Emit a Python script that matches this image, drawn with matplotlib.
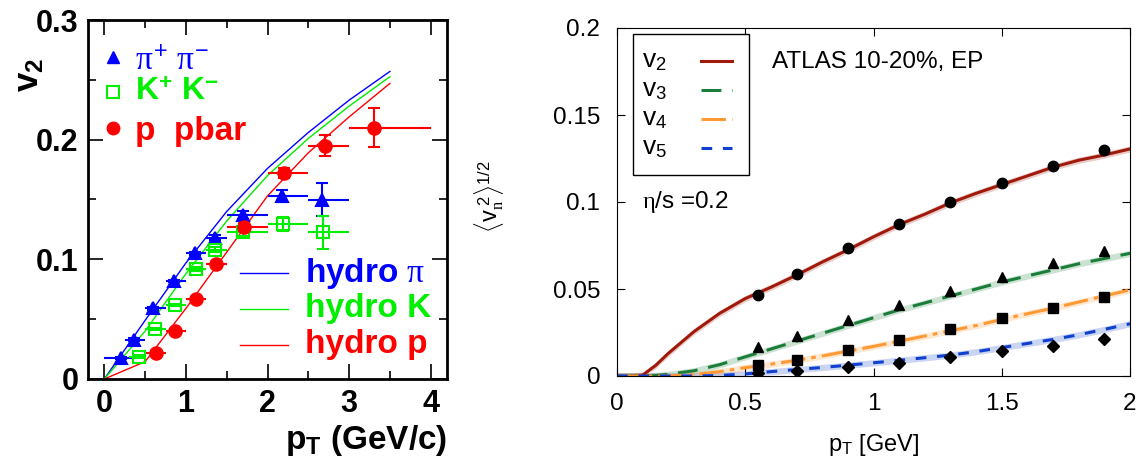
import numpy as np
import matplotlib
matplotlib.use('Agg')
import matplotlib.pyplot as plt
from matplotlib.ticker import MultipleLocator
from matplotlib.patches import Rectangle

plt.rcParams['font.family'] = ['Liberation Sans', 'DejaVu Sans']
plt.rcParams['mathtext.fontset'] = 'custom'
plt.rcParams['mathtext.rm'] = 'Liberation Sans'
plt.rcParams['mathtext.bf'] = 'Liberation Sans:bold'
plt.rcParams['mathtext.it'] = 'Liberation Serif'
plt.rcParams['mathtext.sf'] = 'Liberation Sans'

# ---- left panel: identified hadron v2 vs hydro ----
pi_pt = [0.21, 0.36, 0.60, 0.85, 1.11, 1.36, 1.70, 2.18, 2.67]
pi_v2 = [0.0173, 0.033, 0.059, 0.082, 0.105, 0.118, 0.137, 0.153, 0.150]
pi_lo = [0.0, 0.25, 0.5, 0.75, 1.0, 1.25, 1.5, 2.0, 2.5]
pi_hi = [0.43, 0.5, 0.75, 1.0, 1.25, 1.5, 2.0, 2.5, 3.0]
pi_err = [0.001, 0.001, 0.001, 0.001, 0.0015, 0.002, 0.003, 0.005, 0.0135]

k_pt = [0.42, 0.62, 0.87, 1.12, 1.36, 1.70, 2.19, 2.68]
k_v2 = [0.0187, 0.042, 0.062, 0.092, 0.108, 0.1225, 0.1295, 0.1225]
k_lo = [0.3, 0.5, 0.75, 1.0, 1.25, 1.5, 2.0, 2.5]
k_hi = [0.5, 0.75, 1.0, 1.25, 1.5, 2.0, 2.5, 3.0]
k_err = [0.001, 0.001, 0.001, 0.0015, 0.002, 0.003, 0.006, 0.014]

p_pt = [0.63, 0.87, 1.12, 1.37, 1.71, 2.20, 2.70, 3.31]
p_v2 = [0.022, 0.040, 0.067, 0.096, 0.127, 0.172, 0.195, 0.210]
p_lo = [0.5, 0.75, 1.0, 1.25, 1.5, 2.0, 2.5, 3.0]
p_hi = [0.75, 1.0, 1.25, 1.5, 2.0, 2.5, 3.0, 4.0]
p_err = [0.001, 0.001, 0.0015, 0.002, 0.003, 0.004, 0.009, 0.0165]

hydro_pt = [0, 0.5, 1.0, 1.5, 2.0, 2.5, 3.0, 3.5]
hydro_pi = [0, 0.049, 0.097, 0.140, 0.176, 0.206, 0.233, 0.257]
hydro_k = [0, 0.040, 0.088, 0.132, 0.170, 0.201, 0.228, 0.2526]
hydro_p = [0, 0.0145, 0.059, 0.106, 0.153, 0.189, 0.219, 0.247]

# ---- right panel: ATLAS vn vs hydro ----
atlas_pt = [0.55, 0.70, 0.90, 1.10, 1.30, 1.50, 1.70, 1.90]
atlas_v2 = [0.0468, 0.0585, 0.0738, 0.0874, 0.0999, 0.1108, 0.1208, 0.130]
atlas_v3 = [0.0169, 0.023, 0.0322, 0.0408, 0.049, 0.0571, 0.0648, 0.0721]
atlas_v4 = [0.0063, 0.0092, 0.015, 0.0207, 0.027, 0.0332, 0.0389, 0.0456]
atlas_v5 = [0.0019, 0.0031, 0.005, 0.0077, 0.0111, 0.0144, 0.0173, 0.0213]

calc_pt = [0, 0.05, 0.1, 0.15, 0.2, 0.3, 0.4, 0.5, 0.6, 0.7, 0.8, 0.9, 1.0,
           1.1, 1.2, 1.3, 1.4, 1.5, 1.6, 1.7, 1.8, 1.9, 2.0]
calc_v2 = [0, 0, 0.0005, 0.006, 0.013, 0.0255, 0.036, 0.0445, 0.051, 0.058, 0.0655,
           0.0725, 0.080, 0.087, 0.093, 0.0995, 0.105, 0.110, 0.115, 0.120, 0.124,
           0.127, 0.1305]
calc_v3 = [0, 0, 0, 0.0003, 0.001, 0.003, 0.0065, 0.011, 0.0155, 0.020, 0.0245,
           0.029, 0.0335, 0.038, 0.042, 0.046, 0.050, 0.054, 0.0575, 0.061, 0.0645,
           0.0675, 0.0705]
calc_v4 = [0, 0, 0, 0, 0, 0.0008, 0.0025, 0.0048, 0.0068, 0.009, 0.0115, 0.0143,
           0.017, 0.020, 0.023, 0.026, 0.029, 0.0325, 0.0358, 0.039, 0.0425, 0.046,
           0.0495]
calc_v5 = [0, 0, 0, 0, 0, 0, 0.0003, 0.0012, 0.0025, 0.0037, 0.0049, 0.0062, 0.0076,
           0.009, 0.0105, 0.012, 0.014, 0.0163, 0.0187, 0.021, 0.0237, 0.0268, 0.030]
calc_band = 0.0018

W, H = 1145, 466
fig = plt.figure(figsize=(W / 100, H / 100), dpi=100)

# ================= left =================
ax1 = fig.add_axes([88 / W, 1 - 379 / H, 359 / W, 359 / H])

BLUE, GREEN, RED = '#0000ff', '#00ee00', '#ff0000'

ax1.plot(hydro_pt, hydro_pi, color=BLUE, lw=1.0)
ax1.plot(hydro_pt, hydro_k, color=GREEN, lw=1.0)
ax1.plot(hydro_pt, hydro_p, color=RED, lw=1.0)


def draw_set(x, y, lo, hi, err, color, marker, mfc):
    x = np.array(x)
    xerr = [x - np.array(lo), np.array(hi) - x]
    ax1.errorbar(x, y, xerr=xerr, fmt='none', ecolor=color, elinewidth=1.5, capsize=0)
    ax1.errorbar(x, y, yerr=err, fmt='none', ecolor=color, elinewidth=1.5,
                 capsize=4, capthick=1.5)
    ax1.plot(x, y, linestyle='none', marker=marker, ms=9, color=color,
             mfc=mfc, mec=color, mew=1.5, zorder=5)


draw_set(pi_pt, pi_v2, pi_lo, pi_hi, pi_err, BLUE, '^', BLUE)
draw_set(k_pt, k_v2, k_lo, k_hi, k_err, GREEN, 's', 'none')
draw_set(p_pt, p_v2, p_lo, p_hi, p_err, RED, 'o', RED)

ax1.set_xlim(-0.2, 4.2)
ax1.set_ylim(0, 0.3)
ax1.xaxis.set_major_locator(MultipleLocator(1))
ax1.xaxis.set_minor_locator(MultipleLocator(0.5))
ax1.yaxis.set_major_locator(MultipleLocator(0.1))
ax1.yaxis.set_minor_locator(MultipleLocator(0.05))
ax1.set_yticks([0, 0.1, 0.2, 0.3])
ax1.set_yticklabels(['0', '0.1', '0.2', '0.3'])
ax1.tick_params(which='both', direction='in', top=True, right=True, width=1.2)
ax1.tick_params(which='major', length=11, labelsize=22, pad=7)
ax1.tick_params(which='minor', length=6)
for lab in ax1.get_xticklabels() + ax1.get_yticklabels():
    lab.set_fontweight('bold')
for sp in ax1.spines.values():
    sp.set_linewidth(2)

# legend (top-left)
ax1.plot([0.070], [0.897], marker='^', ms=8, color=BLUE, transform=ax1.transAxes)
ax1.plot([0.070], [0.800], marker='s', ms=8, mfc='none', mec=GREEN, mew=1.5,
         transform=ax1.transAxes)
ax1.plot([0.070], [0.699], marker='o', ms=9, color=RED, transform=ax1.transAxes)
ax1.text(0.132, 0.885, r'$\pi^{+}\ \pi^{-}$', color=BLUE, fontsize=24,
         transform=ax1.transAxes, va='center')
ax1.text(0.132, 0.800, r'K$^{\mathbf{+}}$ K$^{\mathbf{-}}$', color=GREEN, fontsize=23,
         fontweight='bold', transform=ax1.transAxes, va='center')
ax1.text(0.132, 0.690, 'p  pbar', color=RED, fontsize=24, fontweight='bold',
         transform=ax1.transAxes, va='center')

# hydro legend
for yy, col, name in [(0.295, BLUE, r'hydro $\pi$'), (0.195, GREEN, 'hydro K'),
                      (0.095, RED, 'hydro p')]:
    ax1.plot([0.423, 0.557], [yy, yy], color=col, lw=1.0, transform=ax1.transAxes)
    ax1.text(0.605, yy, name, color=col, fontsize=24, fontweight='bold',
             transform=ax1.transAxes, va='center')

fig.text(447 / W, 1 - 440 / H, r'$\mathbf{p_T}$ (GeV/c)', fontsize=24,
         fontweight='bold', ha='right', va='center')
fig.text(29 / W, 1 - 75 / H, r'$\mathbf{v_2}$', fontsize=25, rotation=90,
         ha='center', va='center')

# ================= right =================
X0, X1, Y0, Y1 = 617, 1130, 28, 376
ax2 = fig.add_axes([X0 / W, 1 - Y1 / H, (X1 - X0) / W, (Y1 - Y0) / H])

styles = [
    (calc_v2, atlas_v2, '#a01a0c', '-', 'o', r'$\mathrm{v}_2$'),
    (calc_v3, atlas_v3, '#1b7d3a', (0, (6.5, 3.5)), '^', r'$\mathrm{v}_3$'),
    (calc_v4, atlas_v4, '#ff9933', (0, (8, 2, 1.5, 2)), 's', r'$\mathrm{v}_4$'),
    (calc_v5, atlas_v5, '#1040d0', (0, (3.5, 3.5)), 'D', r'$\mathrm{v}_5$'),
]
for curve, pts, col, ls, mk, lab in styles:
    c = np.array(curve)
    ax2.fill_between(calc_pt, np.clip(c - calc_band, 0, None), c + calc_band,
                     color=col, alpha=0.22, lw=0)
    ax2.plot(calc_pt, curve, color=col, lw=2.2, linestyle=ls)
    ms = 6 if mk == 'D' else 7.5
    ax2.plot(atlas_pt, pts, linestyle='none', marker=mk, ms=ms, color='black',
             zorder=5)

ax2.set_xlim(0, 2)
ax2.set_ylim(0, 0.2)
ax2.set_xticks([0, 0.5, 1, 1.5, 2])
ax2.set_xticklabels(['0', '0.5', '1', '1.5', '2'])
ax2.set_yticks([0, 0.05, 0.1, 0.15, 0.2])
ax2.set_yticklabels(['0', '0.05', '0.1', '0.15', '0.2'])
ax2.tick_params(direction='in', top=True, right=True, length=6, labelsize=17.5)
ax2.tick_params(axis='y', pad=12)
ax2.tick_params(axis='x', pad=12)


def ax2_xy(px, py):
    return (px - X0) / (X1 - X0), (Y1 - py) / (Y1 - Y0)


# legend box, drawn by hand (text left, line right)
bx0, by1 = ax2_xy(633, 34)
bx1, by0 = ax2_xy(749, 175)
ax2.add_patch(Rectangle((bx0, by0), bx1 - bx0, by1 - by0, transform=ax2.transAxes,
                        fill=True, facecolor='white', edgecolor='black', lw=1.0,
                        zorder=6))
for (curve, pts, col, ls, mk, lab), ly in zip(styles, [61, 90, 119, 148]):
    tx, ty = ax2_xy(642, ly + 6)
    ax2.text(tx, ty, lab, fontsize=19, transform=ax2.transAxes, va='baseline',
             zorder=7)
    lx0, yy = ax2_xy(701, ly)
    lx1, _ = ax2_xy(732, ly)
    ax2.plot([lx0, lx1], [yy, yy], color=col, lw=2.2, linestyle=ls,
             transform=ax2.transAxes, zorder=7)

tx, ty = ax2_xy(772, 62)
ax2.text(tx, ty, 'ATLAS 10-20%, EP', fontsize=17.5, transform=ax2.transAxes,
         va='center')
tx, ty = ax2_xy(642, 202)
ax2.text(tx, ty, r'$\eta$/s =0.2', fontsize=17.5, transform=ax2.transAxes,
         va='center')

fig.text((X0 + X1) / 2 / W, 1 - 445 / H, r'p$_\mathrm{T}$ [GeV]', fontsize=17,
         ha='center', va='center')
fig.text(489 / W, 1 - 197 / H, r'$\langle \mathrm{v}_n^{\ 2}\rangle^{1/2}$',
         fontsize=17, rotation=90, ha='center', va='center')

fig.savefig('out.png', dpi=100)
